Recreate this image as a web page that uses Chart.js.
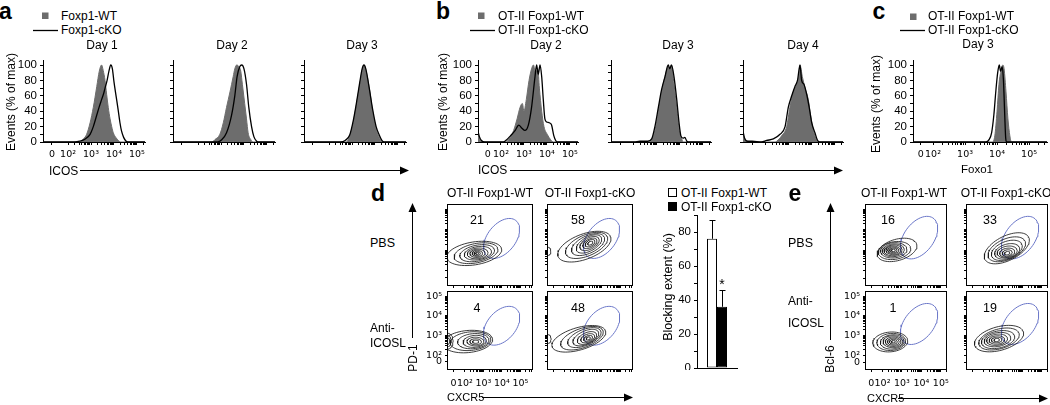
<!DOCTYPE html>
<html><head><meta charset="utf-8">
<script src="https://cdn.jsdelivr.net/npm/chart.js@4.4.1/dist/chart.umd.min.js"></script>
<style>
html,body{margin:0;padding:0;background:#fff;}
#root{position:relative;width:1050px;height:405px;overflow:hidden;font-family:"Liberation Sans",Arial,Helvetica,sans-serif;color:#000;}
canvas{position:absolute;}
.t{position:absolute;white-space:nowrap;line-height:1;}
.c{transform:translate(-50%,-50%);}
.l{transform:translate(0,-50%);}
.r90{transform:translate(-50%,-50%) rotate(-90deg);}
svg{position:absolute;left:0;top:0;}
</style></head>
<body><div id="root">
<svg width="1050" height="405">
 <rect x="42" y="12.5" width="6.5" height="6.5" fill="#6d6d6d"/>
 <line x1="33" y1="30.5" x2="58" y2="30.5" stroke="#000" stroke-width="1.3"/>
 <rect x="478" y="12.5" width="6.5" height="6.5" fill="#6d6d6d"/>
 <line x1="470" y1="30.5" x2="495" y2="30.5" stroke="#000" stroke-width="1.3"/>
 <rect x="910" y="13.5" width="6.5" height="6.5" fill="#6d6d6d"/>
 <line x1="900" y1="30.5" x2="925" y2="30.5" stroke="#000" stroke-width="1.3"/>
 <rect x="668.5" y="188.5" width="8" height="8" fill="#fff" stroke="#000" stroke-width="1"/>
 <rect x="668.5" y="202.5" width="8" height="8" fill="#000" stroke="#000" stroke-width="1"/>
 <line x1="80" y1="170.5" x2="402" y2="170.5" stroke="#000" stroke-width="1"/>
 <polygon points="409,170.5 400,166.5 400,174.5" fill="#000"/>
 <line x1="510" y1="170.5" x2="836" y2="170.5" stroke="#000" stroke-width="1"/>
 <polygon points="843,170.5 834,166.5 834,174.5" fill="#000"/>
 <line x1="482" y1="397.5" x2="626" y2="397.5" stroke="#000" stroke-width="1"/>
 <polygon points="633,397.5 624,393.5 624,401.5" fill="#000"/>
 <line x1="412.5" y1="338" x2="412.5" y2="210" stroke="#000" stroke-width="1"/>
 <polygon points="412.5,203 408.5,212 416.5,212" fill="#000"/>
 <line x1="898" y1="398.5" x2="1041" y2="398.5" stroke="#000" stroke-width="1"/>
 <polygon points="1048,398.5 1039,394.5 1039,402.5" fill="#000"/>
 <line x1="830.5" y1="340" x2="830.5" y2="210" stroke="#000" stroke-width="1"/>
 <polygon points="830.5,203 826.5,212 834.5,212" fill="#000"/>
</svg>
</div>
<script>
// ================= DATA =================
const aDays = ['Day 1', 'Day 2', 'Day 3'];
const bDays = ['Day 2', 'Day 3', 'Day 4'];
const cDays = ['Day 3'];
const aLegend = ['Foxp1-WT', 'Foxp1-cKO'];
const otLegend = ['OT-II Foxp1-WT', 'OT-II Foxp1-cKO'];
const histYTicks = [0, 10, 20, 30, 40, 50, 60, 70, 80, 90, 100];
const histYLabels = ['0', '', '20', '', '40', '', '60', '', '80', '', '100'];
const logTickLabels = ['0', '10²', '10³', '10⁴', '10⁵'];

// histograms: [logicle position (2 = 10^2 ... 5 = 10^5), events % of max]
const aDay1WT = [[0.91,0],[2.5,0],[2.67,4],[2.81,10],[2.96,25],[3.1,45],[3.25,72],[3.36,92],[3.46,100],[3.53,93],[3.61,80],[3.68,62],[3.75,45],[3.83,30],[3.9,20],[3.97,12],[4.08,6],[4.19,2],[4.3,0],[5.35,0]];
const aDay1KO = [[0.91,0],[2.3,0],[2.5,1],[2.75,4],[2.96,10],[3.1,20],[3.25,35],[3.35,45],[3.46,55],[3.55,63],[3.61,70],[3.7,80],[3.78,92],[3.86,100],[3.93,95],[4.0,78],[4.1,58],[4.18,42],[4.26,25],[4.33,14],[4.42,6],[4.5,2],[4.6,0],[5.35,0]];
const aDay2WT = [[0.91,0],[2.6,0],[2.73,3],[2.95,10],[3.1,25],[3.24,45],[3.39,65],[3.53,85],[3.6,95],[3.68,100],[3.8,97],[3.86,92],[3.93,75],[4.03,50],[4.11,30],[4.18,12],[4.3,3],[4.4,0],[5.35,0]];
const aDay2KO = [[0.91,0],[2.85,0],[3.03,3],[3.24,12],[3.46,35],[3.6,60],[3.7,85],[3.82,98],[3.9,100],[4.0,95],[4.11,75],[4.21,45],[4.33,20],[4.43,7],[4.55,1],[4.65,0],[5.35,0]];
const aDay3WT = [[0.91,0],[2.75,0],[2.9,8],[3.05,25],[3.2,50],[3.34,75],[3.46,95],[3.52,100],[3.63,90],[3.78,65],[3.92,35],[4.07,15],[4.2,5],[4.35,0],[5.35,0]];
const aDay3KO = [[0.91,0],[2.5,0],[2.7,2],[2.9,9],[3.05,27],[3.2,52],[3.34,78],[3.44,95],[3.52,100],[3.6,95],[3.75,70],[3.9,42],[4.05,20],[4.2,8],[4.3,2],[4.4,0],[5.35,0]];
const bDay2WT = [[1.0,12],[1.06,5],[1.15,1],[1.3,0],[2.2,0],[2.4,6],[2.55,15],[2.7,30],[2.83,45],[2.93,50],[3.0,40],[3.1,55],[3.22,80],[3.33,95],[3.41,100],[3.51,90],[3.6,95],[3.67,70],[3.77,40],[3.87,20],[4.01,10],[4.16,3],[4.28,0],[5.35,0]];
const bDay2KO = [[1.0,14],[1.06,7],[1.15,2],[1.3,0],[2.1,0],[2.25,3],[2.41,8],[2.62,15],[2.77,22],[2.91,18],[3.04,15],[3.19,22],[3.33,45],[3.48,85],[3.55,100],[3.62,88],[3.7,100],[3.77,85],[3.84,55],[3.91,30],[3.99,26],[4.1,25],[4.2,22],[4.3,8],[4.38,2],[4.45,0],[5.35,0]];
const bDay3WT = [[1.0,0],[2.7,0],[2.77,3],[2.91,15],[3.06,40],[3.2,65],[3.35,85],[3.49,98],[3.56,95],[3.63,100],[3.74,75],[3.86,45],[3.97,15],[4.07,5],[4.14,0],[5.35,0]];
const bDay3KO = [[1.0,0],[2.0,0],[2.26,1],[2.6,1],[2.77,4],[2.91,20],[3.06,45],[3.2,68],[3.35,85],[3.49,100],[3.56,95],[3.63,100],[3.74,85],[3.86,55],[3.96,25],[4.04,8],[4.14,5],[4.21,6],[4.3,1],[4.4,0],[5.35,0]];
const bDay4WT = [[1.0,15],[1.04,8],[1.1,3],[1.2,1],[1.4,0],[2.4,0],[2.47,1],[2.68,8],[2.9,20],[3.04,45],[3.19,65],[3.34,75],[3.44,88],[3.48,100],[3.58,85],[3.7,70],[3.84,55],[3.94,35],[4.06,15],[4.17,5],[4.27,0],[5.35,0]];
const bDay4KO = [[1.0,15],[1.04,8],[1.1,3],[1.2,1],[1.4,1],[1.8,0],[2.03,2],[2.32,4],[2.61,10],[2.83,20],[2.97,45],[3.12,60],[3.26,72],[3.37,80],[3.48,100],[3.55,80],[3.65,75],[3.77,62],[3.88,45],[3.99,25],[4.13,12],[4.23,3],[4.34,0],[5.35,0]];
const cDay3WT = [[1.375,0],[3.85,0],[3.93,8],[4.0,40],[4.06,75],[4.12,92],[4.18,100],[4.22,95],[4.28,65],[4.34,30],[4.4,8],[4.45,0],[5.56,0]];
const cDay3KO = [[1.375,0],[3.65,0],[3.75,3],[3.83,12],[3.9,35],[3.96,65],[4.02,90],[4.07,100],[4.11,92],[4.16,98],[4.2,80],[4.24,35],[4.27,5],[4.3,0],[5.56,0]];

// contour plots: each contour level [centre CXCR5, centre PD-1/Bcl-6, half-width, half-height, tilt deg]
const groups = ['OT-II Foxp1-WT', 'OT-II Foxp1-cKO'];
const treatments = ['PBS', 'Anti-ICOSL'];
const dPercent = [[21, 58], [4, 48]];
const ePercent = [[16, 33], [1, 19]];
const dWtPbs = [[2.5,2.85,1.5,0.56,8],[2.6,2.86,1.2,0.47,10],[2.66,2.86,0.95,0.39,10],[2.7,2.86,0.74,0.32,8],[2.69,2.85,0.56,0.26,5],[2.68,2.85,0.41,0.2,3],[2.67,2.85,0.28,0.15,0],[2.66,2.85,0.17,0.1,0],[2.66,2.85,0.08,0.05,0]];
const dKoPbs = [[3.05,3.18,1.5,0.62,18],[3.17,3.24,1.2,0.52,20],[3.25,3.28,0.95,0.43,22],[3.3,3.31,0.74,0.35,25],[3.33,3.33,0.56,0.28,25],[3.35,3.34,0.41,0.21,25],[3.36,3.35,0.28,0.15,25],[3.37,3.35,0.15,0.08,25],[1.08,2.95,0.16,0.2,0]];
const dWtAnti = [[2.15,2.7,1.35,0.56,5],[2.3,2.72,1.1,0.47,5],[2.45,2.72,0.85,0.38,5],[2.53,2.71,0.63,0.3,5],[2.57,2.7,0.46,0.22,0],[2.58,2.69,0.31,0.15,0],[2.58,2.69,0.17,0.08,0],[1.06,2.72,0.3,0.4,0],[1.06,2.72,0.2,0.28,0],[1.06,2.72,0.11,0.17,0]];
const dKoAnti = [[2.75,2.84,1.5,0.57,15],[2.92,2.87,1.2,0.49,18],[3.05,2.9,0.95,0.41,20],[3.13,2.9,0.74,0.34,22],[3.19,2.88,0.55,0.27,22],[3.23,2.87,0.39,0.2,20],[3.25,2.86,0.25,0.13,20],[3.26,2.86,0.12,0.07,20],[1.1,2.83,0.15,0.22,0]];
const eWtPbs = [[2.75,3.02,1.05,0.52,15],[2.62,2.99,0.84,0.43,8],[2.58,3.0,0.68,0.37,5],[2.56,3.0,0.56,0.31,5],[2.55,3.0,0.46,0.26,5],[2.55,3.0,0.37,0.21,0],[2.55,3.0,0.28,0.16,0],[2.56,3.0,0.19,0.11,0],[2.56,3.0,0.1,0.06,0]];
const eKoPbs = [[3.2,3.1,1.25,0.6,25],[3.2,3.05,1.02,0.51,22],[3.2,3.0,0.83,0.43,20],[3.22,2.95,0.66,0.35,15],[3.22,2.92,0.52,0.28,10],[3.22,2.89,0.39,0.21,10],[3.22,2.87,0.26,0.15,10],[3.22,2.86,0.14,0.08,10]];
const eWtAnti = [[2.4,2.68,0.9,0.5,5],[2.45,2.68,0.74,0.43,5],[2.5,2.68,0.61,0.36,5],[2.53,2.69,0.5,0.3,0],[2.55,2.69,0.4,0.24,0],[2.56,2.69,0.3,0.18,0],[2.56,2.69,0.2,0.12,0],[2.56,2.69,0.1,0.06,0]];
const eKoAnti = [[2.8,2.85,1.3,0.6,15],[2.8,2.83,1.07,0.5,15],[2.75,2.8,0.87,0.43,12],[2.72,2.8,0.69,0.35,10],[2.7,2.79,0.54,0.28,8],[2.69,2.78,0.4,0.21,5],[2.68,2.78,0.27,0.14,5],[2.68,2.78,0.14,0.08,5]];
const dGateTop = [3.98,3.58,1.17,0.73,45];
const dGateBottom = [3.98,3.5,1.17,0.75,45];
const eGateTop = [3.88,3.62,1.2,0.75,50];
const eGateBottom = [3.88,3.59,1.2,0.75,50];

// bar chart
const barGroups = ['OT-II Foxp1-WT', 'OT-II Foxp1-cKO'];
const blockMean = [76, 36];
const blockSD = [11, 10];
const barYTicks = [0, 10, 20, 30, 40, 50, 60, 70, 80, 90];
const barYLabels = ['0', '', '20', '', '40', '', '60', '', '80', ''];

// ================= RENDER =================
const FONT = '"Liberation Sans", Arial, Helvetica, sans-serif';
const SUPFONT = '"DejaVu Sans", "Liberation Sans", sans-serif';
Chart.defaults.font.family = FONT;
Chart.defaults.color = '#000';
const root = document.getElementById('root');

function txt(s, x, y, mode, size, weight) {
  const d = document.createElement('div');
  d.className = 't ' + mode; d.textContent = s;
  d.style.left = x + 'px'; d.style.top = y + 'px'; d.style.fontSize = size + 'px';
  if (weight) d.style.fontWeight = weight;
  root.appendChild(d);
}
function makeCanvas(plot, pad) {
  const cv = document.createElement('canvas');
  const W = plot.w + pad.l + pad.r, H = plot.h + pad.t + pad.b;
  cv.width = W; cv.height = H;
  Object.assign(cv.style, {left: (plot.x - pad.l) + 'px', top: (plot.y - pad.t) + 'px', width: W + 'px', height: H + 'px'});
  root.appendChild(cv);
  return cv;
}
function zeroPad(s) { s.paddingLeft = 0; s.paddingRight = 0; s.paddingTop = 0; s.paddingBottom = 0; }
const fitW = w => s => { s.width = w; zeroPad(s); };
const fitH = h => s => { s.height = h; zeroPad(s); };
function baseOpts(pad) {
  return {responsive: false, animation: false, devicePixelRatio: 1, events: [],
    layout: {padding: {left: 0, top: pad.t, right: pad.r, bottom: 0}},
    plugins: {legend: {display: false}, tooltip: {enabled: false}}};
}
function logTicks(zero, min, max) {
  const t = [zero];
  for (let d = 2; d <= 5; d++) { t.push(d); for (let k = 2; k <= 9; k++) t.push(d + Math.log10(k)); }
  return t.filter(v => v >= min && v <= max);
}
function logLabel(v, zero) {
  const i = [zero, 2, 3, 4, 5].findIndex(p => Math.abs(p - v) < 1e-9);
  return i >= 0 ? logTickLabels[i] : '';
}
const xy = arr => arr.map(p => ({x: p[0], y: p[1]}));

function histChart(plot, pad, wt, ko, xr, zero, showX, showY) {
  const cv = makeCanvas(plot, pad);
  const o = baseOpts(pad);
  o.scales = {
    x: {type: 'linear', min: xr[0], max: xr[1], afterFit: fitH(pad.b),
      afterBuildTicks: s => { s.ticks = logTicks(zero, xr[0], xr[1]).map(v => ({value: v})); },
      ticks: {autoSkip: false, maxRotation: 0, minRotation: 0, padding: 4, font: {size: 9.5, family: SUPFONT}, callback: v => showX ? logLabel(v, zero) : ''},
      grid: {drawOnChartArea: false, drawTicks: true, tickLength: 3, color: '#000'},
      border: {display: true, color: '#000', width: 1}},
    y: {type: 'linear', min: 0, max: 106.5, afterFit: fitW(pad.l),
      afterBuildTicks: s => { s.ticks = histYTicks.map(v => ({value: v})); },
      ticks: {autoSkip: false, padding: 3, font: {size: 11.5}, callback: v => showY ? histYLabels[histYTicks.indexOf(v)] : ''},
      grid: {drawOnChartArea: false, drawTicks: true, tickLength: 3, color: '#000'},
      border: {display: true, color: '#000', width: 1}}
  };
  new Chart(cv, {type: 'line', data: {datasets: [
    {label: 'cKO', data: xy(ko), borderColor: '#000', borderWidth: 1.3, pointRadius: 0, fill: false, cubicInterpolationMode: 'monotone', order: 0},
    {label: 'WT', data: xy(wt), borderColor: '#6d6d6d', backgroundColor: '#6d6d6d', borderWidth: 1, pointRadius: 0, fill: 'origin', cubicInterpolationMode: 'monotone', order: 1}
  ]}, options: o});
}

function ellipsePts(e) {
  const [cx, cy, rx, ry, ang] = e; const a = ang * Math.PI / 180; const pts = [];
  for (let i = 0; i <= 60; i++) {
    const t = i / 60 * 2 * Math.PI; const x = rx * Math.cos(t), y = ry * Math.sin(t);
    pts.push({x: cx + x * Math.cos(a) - y * Math.sin(a), y: cy + x * Math.sin(a) + y * Math.cos(a)});
  }
  return pts;
}
const framePlugin = {id: 'frame', afterDraw(c) {
  const a = c.chartArea, ctx = c.ctx; ctx.save(); ctx.strokeStyle = '#000'; ctx.lineWidth = 1;
  ctx.strokeRect(Math.round(a.left) + 0.5, Math.round(a.top) + 0.5, Math.round(a.right - a.left) - 1, Math.round(a.bottom - a.top) - 1);
  ctx.restore(); }};

function contourChart(plot, contours, gate, xr, xZero, yZero, labels) {
  const pad = {l: 24, t: 2, r: 2, b: 20};
  const cv = makeCanvas(plot, pad);
  const o = baseOpts(pad);
  const yr = [1.26, 5.26];
  o.scales = {
    x: {type: 'linear', min: xr[0], max: xr[1], afterFit: fitH(pad.b),
      afterBuildTicks: s => { s.ticks = logTicks(xZero, xr[0], xr[1]).map(v => ({value: v})); },
      ticks: {autoSkip: false, maxRotation: 0, minRotation: 0, padding: 6, font: {size: 9.5, family: SUPFONT}, callback: v => labels ? logLabel(v, xZero) : ''},
      grid: {drawOnChartArea: false, drawTicks: true, tickLength: 2, color: '#000'}, border: {display: false}},
    y: {type: 'linear', min: yr[0], max: yr[1], afterFit: fitW(pad.l),
      afterBuildTicks: s => { s.ticks = logTicks(yZero, yr[0], yr[1]).map(v => ({value: v})); },
      ticks: {autoSkip: false, padding: 3, font: {size: 9.5, family: SUPFONT}, callback: v => labels ? logLabel(v, yZero) : ''},
      grid: {drawOnChartArea: false, drawTicks: true, tickLength: 2, color: '#000'}, border: {display: false}}
  };
  const ds = contours.map(e => ({data: ellipsePts(e), borderColor: '#1a1a1a', borderWidth: 0.85, pointRadius: 0, fill: false, tension: 0}));
  ds.push({data: ellipsePts(gate), borderColor: '#6a76c8', borderWidth: 1, pointRadius: 0, fill: false, tension: 0});
  new Chart(cv, {type: 'line', data: {datasets: ds}, options: o, plugins: [framePlugin]});
}

// ---- panel a
const hp = {l: 32, t: 3, r: 3, b: 22};
histChart({x: 43, y: 60, w: 102, h: 82}, hp, aDay1WT, aDay1KO, [0.91, 5.35], 1.3, true, true);
histChart({x: 173, y: 60, w: 102, h: 82}, hp, aDay2WT, aDay2KO, [0.91, 5.35], 1.3, false, false);
histChart({x: 304, y: 60, w: 102, h: 82}, hp, aDay3WT, aDay3KO, [0.91, 5.35], 1.3, false, false);
// ---- panel b
histChart({x: 478, y: 60, w: 100, h: 82}, hp, bDay2WT, bDay2KO, [1.0, 5.35], 1.43, true, true);
histChart({x: 611, y: 60, w: 100, h: 82}, hp, bDay3WT, bDay3KO, [1.0, 5.35], 1.43, false, false);
histChart({x: 743, y: 60, w: 100, h: 82}, hp, bDay4WT, bDay4KO, [1.0, 5.35], 1.43, false, false);
// ---- panel c
histChart({x: 913, y: 60, w: 134, h: 82}, hp, cDay3WT, cDay3KO, [1.375, 5.56], 1.62, true, true);

// ---- panel d
contourChart({x: 447, y: 204, w: 86, h: 82}, dWtPbs, dGateTop, [1.03, 5.68], 1.38, 1.67, false);
contourChart({x: 547, y: 204, w: 86, h: 82}, dKoPbs, dGateTop, [1.03, 5.68], 1.38, 1.67, false);
contourChart({x: 447, y: 291, w: 86, h: 79}, dWtAnti, dGateBottom, [1.03, 5.68], 1.38, 1.67, true);
contourChart({x: 547, y: 291, w: 86, h: 79}, dKoAnti, dGateBottom, [1.03, 5.68], 1.38, 1.67, false);
// ---- panel e
contourChart({x: 865, y: 204, w: 82, h: 82}, eWtPbs, eGateTop, [1.1, 5.32], 1.42, 1.63, false);
contourChart({x: 966, y: 204, w: 82, h: 82}, eKoPbs, eGateTop, [1.1, 5.32], 1.42, 1.63, false);
contourChart({x: 865, y: 291, w: 82, h: 79}, eWtAnti, eGateBottom, [1.1, 5.32], 1.42, 1.63, true);
contourChart({x: 966, y: 291, w: 82, h: 79}, eKoAnti, eGateBottom, [1.1, 5.32], 1.42, 1.63, false);

// ---- bar chart
(function () {
  const plot = {x: 697, y: 215, w: 40, h: 153}, pad = {l: 30, t: 2, r: 2, b: 2};
  const cv = makeCanvas(plot, pad);
  const o = baseOpts(pad);
  o.scales = {
    x: {type: 'category', afterFit: fitH(pad.b), ticks: {display: false}, grid: {display: false, drawTicks: false},
      border: {display: true, color: '#000', width: 1}},
    y: {type: 'linear', min: 0, max: 90, afterFit: fitW(pad.l),
      afterBuildTicks: s => { s.ticks = barYTicks.map(v => ({value: v})); },
      ticks: {autoSkip: false, padding: 3, font: {size: 11.5}, callback: v => barYLabels[barYTicks.indexOf(v)]},
      grid: {drawOnChartArea: false, drawTicks: true, tickLength: 3, color: '#000'},
      border: {display: true, color: '#000', width: 1}}
  };
  const errPlugin = {id: 'err', afterDatasetsDraw(c) {
    const ctx = c.ctx, y = c.scales.y; ctx.save(); ctx.strokeStyle = '#000'; ctx.lineWidth = 1;
    c.data.datasets.forEach((d, i) => {
      const el = c.getDatasetMeta(i).data[0];
      const top = Math.round(y.getPixelForValue(blockMean[i] + blockSD[i])) + 0.5;
      const x = Math.round(el.x) + 0.5;
      ctx.beginPath(); ctx.moveTo(x, el.y); ctx.lineTo(x, top); ctx.moveTo(x - 3, top); ctx.lineTo(x + 3, top); ctx.stroke();
    });
    ctx.restore(); }};
  new Chart(cv, {type: 'bar', data: {labels: [''], datasets: barGroups.map((g, i) => ({
    label: g, data: [blockMean[i]], backgroundColor: i ? '#000' : '#fff', borderColor: '#000', borderWidth: 1,
    borderSkipped: false, categoryPercentage: 0.5, barPercentage: 1}))}, options: o, plugins: [errPlugin]});
})();

// ================= TEXT =================
txt('a', -1, 11, 'l', 23, 'bold');
txt(aLegend[0], 61, 16, 'l', 12); txt(aLegend[1], 61, 30, 'l', 12);
txt(aDays[0], 102, 45, 'c', 12); txt(aDays[1], 232, 45, 'c', 12); txt(aDays[2], 362, 45, 'c', 12);
txt('Events (% of max)', 11, 102, 'r90', 12);
txt('ICOS', 49, 171, 'l', 12);

txt('b', 443, 11, 'c', 23, 'bold');
txt(otLegend[0], 498, 16, 'l', 12); txt(otLegend[1], 498, 30, 'l', 12);
txt(bDays[0], 546, 45, 'c', 12); txt(bDays[1], 678, 45, 'c', 12); txt(bDays[2], 803, 45, 'c', 12);
txt('Events (% of max)', 443, 102, 'r90', 12);
txt('ICOS', 478, 170, 'l', 12);

txt('c', 879, 11, 'c', 23, 'bold');
txt(otLegend[0], 928, 16, 'l', 12); txt(otLegend[1], 928, 30, 'l', 12);
txt(cDays[0], 978, 44, 'c', 12);
txt('Events (% of max)', 876, 104, 'r90', 12);
txt('Foxo1', 977, 170, 'c', 11.5);

txt('d', 378, 193, 'c', 23, 'bold');
txt(groups[0], 490, 193, 'c', 12); txt(groups[1], 590, 193, 'c', 12);
txt(String(dPercent[0][0]), 477, 220, 'c', 12.5); txt(String(dPercent[0][1]), 578, 220, 'c', 12.5);
txt(String(dPercent[1][0]), 477, 308, 'c', 12.5); txt(String(dPercent[1][1]), 578, 308, 'c', 12.5);
txt(treatments[0], 370, 243, 'l', 12.5);
txt('Anti-', 370, 328, 'l', 12); txt('ICOSL', 370, 343, 'l', 12);
txt('PD-1', 413, 358, 'r90', 12);
txt('CXCR5', 447, 397, 'l', 11);

txt(barGroups[0], 681, 193, 'l', 12); txt(barGroups[1], 681, 207, 'l', 12);
txt('Blocking extent (%)', 668, 287, 'r90', 12.5);
txt('*', 722, 284, 'c', 14);

txt('e', 795, 193, 'c', 23, 'bold');
txt(groups[0], 904, 193, 'c', 12); txt(groups[1], 1006, 193, 'c', 12);
txt(String(ePercent[0][0]), 888, 220, 'c', 12.5); txt(String(ePercent[0][1]), 990, 220, 'c', 12.5);
txt(String(ePercent[1][0]), 893, 308, 'c', 12.5); txt(String(ePercent[1][1]), 990, 308, 'c', 12.5);
txt(treatments[0], 788, 243, 'l', 12.5);
txt('Anti-', 788, 301, 'l', 12); txt('ICOSL', 788, 323, 'l', 12);
txt('Bcl-6', 830, 359, 'r90', 12);
txt('CXCR5', 867, 398, 'l', 11);
</script>
</body></html>
